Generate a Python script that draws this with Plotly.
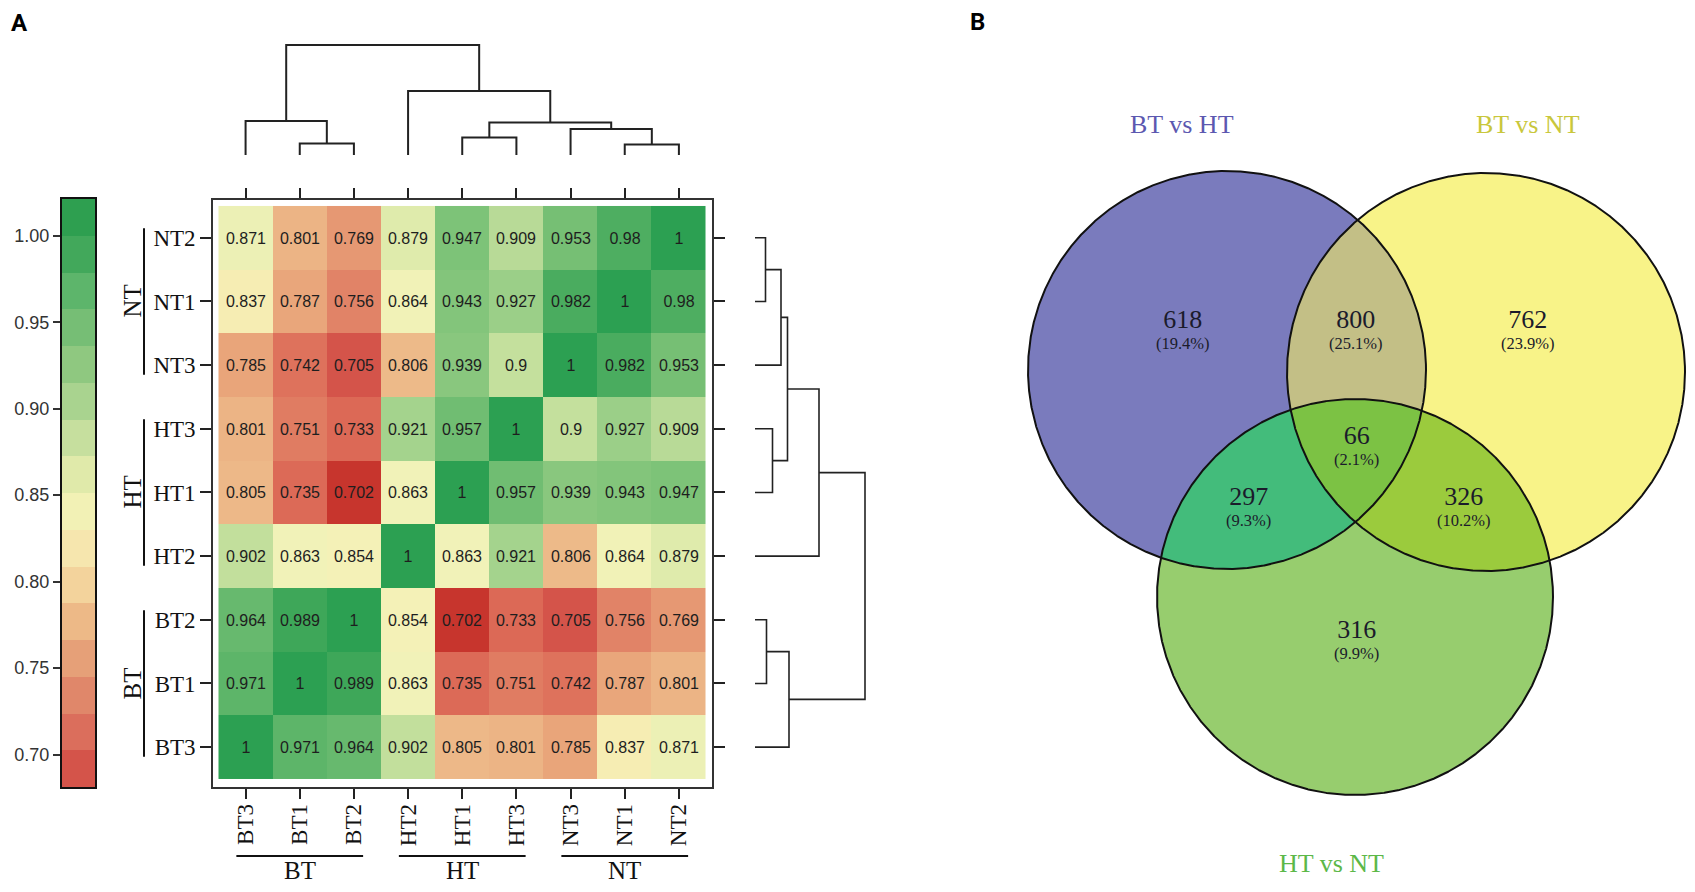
import numpy as np
import plotly.graph_objects as go

W, H = 1695, 892
OFF = 8  # page body margin of the browser

# ---------------- data ----------------
col_labels = ["BT3", "BT1", "BT2", "HT2", "HT1", "HT3", "NT3", "NT1", "NT2"]
row_labels = ["NT2", "NT1", "NT3", "HT3", "HT1", "HT2", "BT2", "BT1", "BT3"]  # top to bottom
corr = [
    [0.871, 0.801, 0.769, 0.879, 0.947, 0.909, 0.953, 0.98, 1],
    [0.837, 0.787, 0.756, 0.864, 0.943, 0.927, 0.982, 1, 0.98],
    [0.785, 0.742, 0.705, 0.806, 0.939, 0.9, 1, 0.982, 0.953],
    [0.801, 0.751, 0.733, 0.921, 0.957, 1, 0.9, 0.927, 0.909],
    [0.805, 0.735, 0.702, 0.863, 1, 0.957, 0.939, 0.943, 0.947],
    [0.902, 0.863, 0.854, 1, 0.863, 0.921, 0.806, 0.864, 0.879],
    [0.964, 0.989, 1, 0.854, 0.702, 0.733, 0.705, 0.756, 0.769],
    [0.971, 1, 0.989, 0.863, 0.735, 0.751, 0.742, 0.787, 0.801],
    [1, 0.971, 0.964, 0.902, 0.805, 0.801, 0.785, 0.837, 0.871],
]
groups = ["BT", "HT", "NT"]
# hierarchical clustering merges: (child a, child b, height)
merges = [
    ("NT1", "NT2", 10.5),
    ("NT3", "m0", 26),
    ("HT1", "HT3", 17.5),
    ("m2", "m1", 32.5),
    ("HT2", "m3", 64),
    ("BT1", "BT2", 11.5),
    ("BT3", "m5", 34),
    ("m6", "m4", 110),
]
cbar_ticks = [0.70, 0.75, 0.80, 0.85, 0.90, 0.95, 1.00]
cbar_min, cbar_max, cbar_steps = 0.68125, 1.02125, 16

venn_sets = ["BT vs HT", "BT vs NT", "HT vs NT"]
venn_counts = ["618", "800", "762", "297", "66", "326", "316"]
venn_pcts = ["19.4%", "25.1%", "23.9%", "9.3%", "2.1%", "10.2%", "9.9%"]

# ---------------- styling / layout constants ----------------
SERIF = "Liberation Serif, Times New Roman, serif"
SANS = "Liberation Sans, Arial, sans-serif"

color_anchors = [
    (0.700, "#C4302A"), (0.703, "#C8382F"), (0.705, "#D4544A"), (0.720, "#D9604E"),
    (0.735, "#DC6A57"), (0.752, "#E07D63"), (0.770, "#E69A74"), (0.790, "#EAA87C"),
    (0.805, "#EDB888"), (0.815, "#F0C892"), (0.832, "#F6EBB2"), (0.845, "#F6EFB5"),
    (0.862, "#F2F2B8"), (0.872, "#EBF0B5"), (0.880, "#DDEAAB"), (0.905, "#BEDD9A"),
    (0.925, "#9ED08A"), (0.948, "#7CC277"), (0.968, "#62B76C"), (0.985, "#45AA5C"),
    (1.000, "#2CA052"),
]
cs = [[0.0, color_anchors[0][1]]]
for v, c in color_anchors:
    cs.append([(v - cbar_min) / (cbar_max - cbar_min), c])
cs.append([1.0, color_anchors[-1][1]])

# stepped legend colours, bottom to top
cbar_colors = ["#D4544A", "#DB6E5C", "#E0876A", "#E6A078", "#EDB987", "#F3D39C", "#F6E6AE",
               "#F2F1B5", "#E0EAAA", "#C6DF9E", "#A9D38F", "#8FC880", "#76BE75", "#5DB56B",
               "#42A85B", "#2E9F50"]
cbar_cs = []
for i, c in enumerate(cbar_colors):
    cbar_cs.append([i / cbar_steps, c])
    cbar_cs.append([(i + 1) / cbar_steps, c])


def px_x(p):
    return (p - OFF) / W


def px_y(p):
    return 1 - (p - OFF) / H


def dom_x(a, b):
    return [px_x(a), px_x(b)]


def dom_y(top, bottom):
    return [px_y(bottom), px_y(top)]


# heatmap frame (pixels) and padding in cell units
hx = dom_x(213, 712)
hy = dom_y(200, 787)
xr = [-0.5 - 0.1015, 8.5 + 0.111]
yr = [8.5 + 0.126, -0.5 - 0.094]

fig = go.Figure()

text = [[f"{v:g}" for v in row] for row in corr]
fig.add_trace(go.Heatmap(
    z=corr, x=list(range(9)), y=list(range(9)), text=text, texttemplate="%{text}",
    textfont=dict(family=SANS, size=16, color="#1e1e1e"),
    colorscale=cs, zmin=cbar_min, zmax=cbar_max, showscale=False,
    xaxis="x", yaxis="y", hoverinfo="skip"))

# ---- dendrograms ----
def dendro_segments(order):
    pos = {k: i for i, k in enumerate(order)}
    hgt = {k: 0.0 for k in order}
    segs = []
    for i, (a, b, h) in enumerate(merges):
        segs.append(([pos[a], pos[a], pos[b], pos[b]], [hgt[a], h, h, hgt[b]]))
        pos[f"m{i}"] = (pos[a] + pos[b]) / 2
        hgt[f"m{i}"] = h
    return segs

px, py = [], []
for sx, sy in dendro_segments(col_labels):
    px += sx + [None]
    py += sy + [None]
fig.add_trace(go.Scatter(x=px, y=py, mode="lines", line=dict(color="#222", width=2),
                         xaxis="x2", yaxis="y2", hoverinfo="skip", showlegend=False))

qx, qy = [], []
for sy, sx in dendro_segments(row_labels):
    qx += sx + [None]
    qy += sy + [None]
fig.add_trace(go.Scatter(x=qx, y=qy, mode="lines", line=dict(color="#222", width=1.6),
                         xaxis="x3", yaxis="y3", hoverinfo="skip", showlegend=False))

# ---- colour bar as stepped blocks ----
step = (cbar_max - cbar_min) / cbar_steps
centers = [cbar_min + (i + 0.5) * step for i in range(cbar_steps)]
fig.add_trace(go.Heatmap(z=[[i] for i in range(cbar_steps)], x=[0], y=centers, colorscale=cbar_cs,
                         zmin=-0.5, zmax=cbar_steps - 0.5, showscale=False,
                         xaxis="x4", yaxis="y4", hoverinfo="skip"))

# ---- Venn ----
circles = [(1227, 370, 199), (1486, 372, 199), (1355, 597, 198)]
set_colors = ["#5C58B0", "#C9C73C", "#5CB848"]
region_fill = {
    (0,): "#7A7BBD", (1,): "#F8F388", (2,): "#97CD6E",
    (0, 1): "#C3BF86", (0, 2): "#43BC7B", (1, 2): "#9BCB3D", (0, 1, 2): "#7CC244",
}
t = np.linspace(0, 2 * np.pi, 2400, endpoint=False)


def region_poly(keys):
    xs, ys = [], []
    for k in keys:
        cx, cy, r = circles[k]
        x = cx + r * np.cos(t)
        y = cy + r * np.sin(t)
        m = np.ones_like(x, dtype=bool)
        for j in keys:
            if j == k:
                continue
            ox, oy, orr = circles[j]
            m &= (x - ox) ** 2 + (y - oy) ** 2 <= orr ** 2 + 1e-6
        xs.append(x[m])
        ys.append(y[m])
    xs = np.concatenate(xs)
    ys = np.concatenate(ys)
    ang = np.arctan2(ys - ys.mean(), xs - xs.mean())
    o = np.argsort(ang)
    return list(xs[o]) + [xs[o][0]], list(ys[o]) + [ys[o][0]]


for keys in [(0,), (1,), (2,), (0, 1), (0, 2), (1, 2), (0, 1, 2)]:
    vx, vy = region_poly(keys)
    fig.add_trace(go.Scatter(x=vx, y=vy, mode="lines", fill="toself",
                             fillcolor=region_fill[keys], line=dict(width=0, color=region_fill[keys]),
                             xaxis="x5", yaxis="y5", hoverinfo="skip", showlegend=False))
for cx, cy, r in circles:
    fig.add_trace(go.Scatter(x=list(cx + r * np.cos(t)) + [cx + r], y=list(cy + r * np.sin(t)) + [cy],
                             mode="lines", line=dict(color="#111", width=2),
                             xaxis="x5", yaxis="y5", hoverinfo="skip", showlegend=False))

count_pos = [(1183, 329), (1356, 329), (1528, 329), (1248, 506), (1356, 445), (1464, 506), (1356, 639)]
set_label_pos = [(1182, 124), (1528, 124), (1331, 863)]

C = dict(xanchor="center", yanchor="middle", showarrow=False)
annotations = []
for (x, y), cnt, pct in zip(count_pos, venn_counts, venn_pcts):
    annotations.append(dict(x=x, y=y, xref="x5", yref="y5",
                            text=f"<span style='font-size:26px'>{cnt}</span><br>({pct})",
                            font=dict(family=SERIF, size=16.5, color="#1b1b2b"), **C))
for (x, y), lab, c in zip(set_label_pos, venn_sets, set_colors):
    annotations.append(dict(x=x, y=y, xref="x5", yref="y5", text=lab,
                            font=dict(family=SERIF, size=26, color=c), **C))

# panel letters
annotations.append(dict(x=px_x(19), y=px_y(23), xref="paper", yref="paper", text="<b>A</b>",
                        font=dict(family="Roboto, " + SANS, size=24, color="#000"), **C))
annotations.append(dict(x=px_x(978), y=px_y(22), xref="paper", yref="paper", text="<b>B</b>",
                        font=dict(family="Roboto, " + SANS, size=24, color="#000"), **C))

# group brackets for heatmap
shapes = []
for gi, g in enumerate(groups):
    cols = [i for i, c in enumerate(col_labels) if c.startswith(g)]
    rows = [i for i, r in enumerate(row_labels) if r.startswith(g)]
    shapes.append(dict(type="line", xref="x", yref="paper", x0=min(cols) - 0.17, x1=max(cols) + 0.17,
                       y0=px_y(856), y1=px_y(856), line=dict(color="#111", width=2)))
    annotations.append(dict(x=(min(cols) + max(cols)) / 2, y=px_y(870), xref="x", yref="paper",
                            text=g, font=dict(family=SERIF, size=25, color="#111"), **C))
    shapes.append(dict(type="line", xref="paper", yref="y", x0=px_x(144), x1=px_x(144),
                       y0=min(rows) - 0.15, y1=max(rows) + 0.15, line=dict(color="#111", width=2)))
    annotations.append(dict(x=px_x(132), y=(min(rows) + max(rows)) / 2, xref="paper", yref="y",
                            text=g, textangle=-90,
                            font=dict(family=SERIF, size=25, color="#111"), **C))

hidden = dict(visible=False, showgrid=False, zeroline=False)

fig.update_layout(
    width=W, height=H, margin=dict(l=0, r=0, t=0, b=0),
    paper_bgcolor="white", plot_bgcolor="rgba(0,0,0,0)", showlegend=False,
    xaxis=dict(domain=hx, range=xr, anchor="y", tickvals=list(range(9)), ticktext=col_labels,
               tickangle=-90, ticks="outside", ticklen=10, tickwidth=1.6, tickcolor="#222",
               ticklabelstandoff=-4,
               showline=True, mirror="ticks", linecolor="#333", linewidth=1.6,
               showgrid=False, zeroline=False,
               tickfont=dict(family=SERIF, size=23, color="#111")),
    yaxis=dict(domain=hy, range=yr, anchor="x", tickvals=list(range(9)), ticktext=row_labels,
               ticks="outside", ticklen=11, tickwidth=1.6, tickcolor="#222",
               showline=True, mirror="ticks", linecolor="#333", linewidth=1.6,
               showgrid=False, zeroline=False,
               tickfont=dict(family=SERIF, size=23, color="#111")),
    xaxis2=dict(domain=hx, range=xr, anchor="y2", **hidden),
    yaxis2=dict(domain=dom_y(40, 160), range=[-5, 115], anchor="x2", **hidden),
    xaxis3=dict(domain=dom_x(750, 870), range=[-5, 115], anchor="y3", **hidden),
    yaxis3=dict(domain=hy, range=yr, anchor="x3", **hidden),
    xaxis4=dict(domain=dom_x(62, 95), range=[-0.5, 0.5], anchor="y4", showline=True, mirror=True,
                linecolor="#111", linewidth=2, showticklabels=False, showgrid=False, zeroline=False),
    yaxis4=dict(domain=dom_y(199, 787), range=[cbar_min, cbar_max], anchor="x4",
                tickvals=cbar_ticks, ticktext=[f"{v:.2f}" for v in cbar_ticks],
                ticks="outside", ticklen=7, tickwidth=1.6, tickcolor="#333",
                showline=True, mirror=True, linecolor="#111", linewidth=2,
                showgrid=False, zeroline=False,
                tickfont=dict(family=SANS, size=18, color="#333")),
    xaxis5=dict(domain=dom_x(930, W + OFF), range=[930, W + OFF], anchor="y5", **hidden),
    yaxis5=dict(domain=[0, 1], range=[H + OFF, OFF], anchor="x5", **hidden),
    annotations=annotations, shapes=shapes,
)

fig.write_html("out.html")
